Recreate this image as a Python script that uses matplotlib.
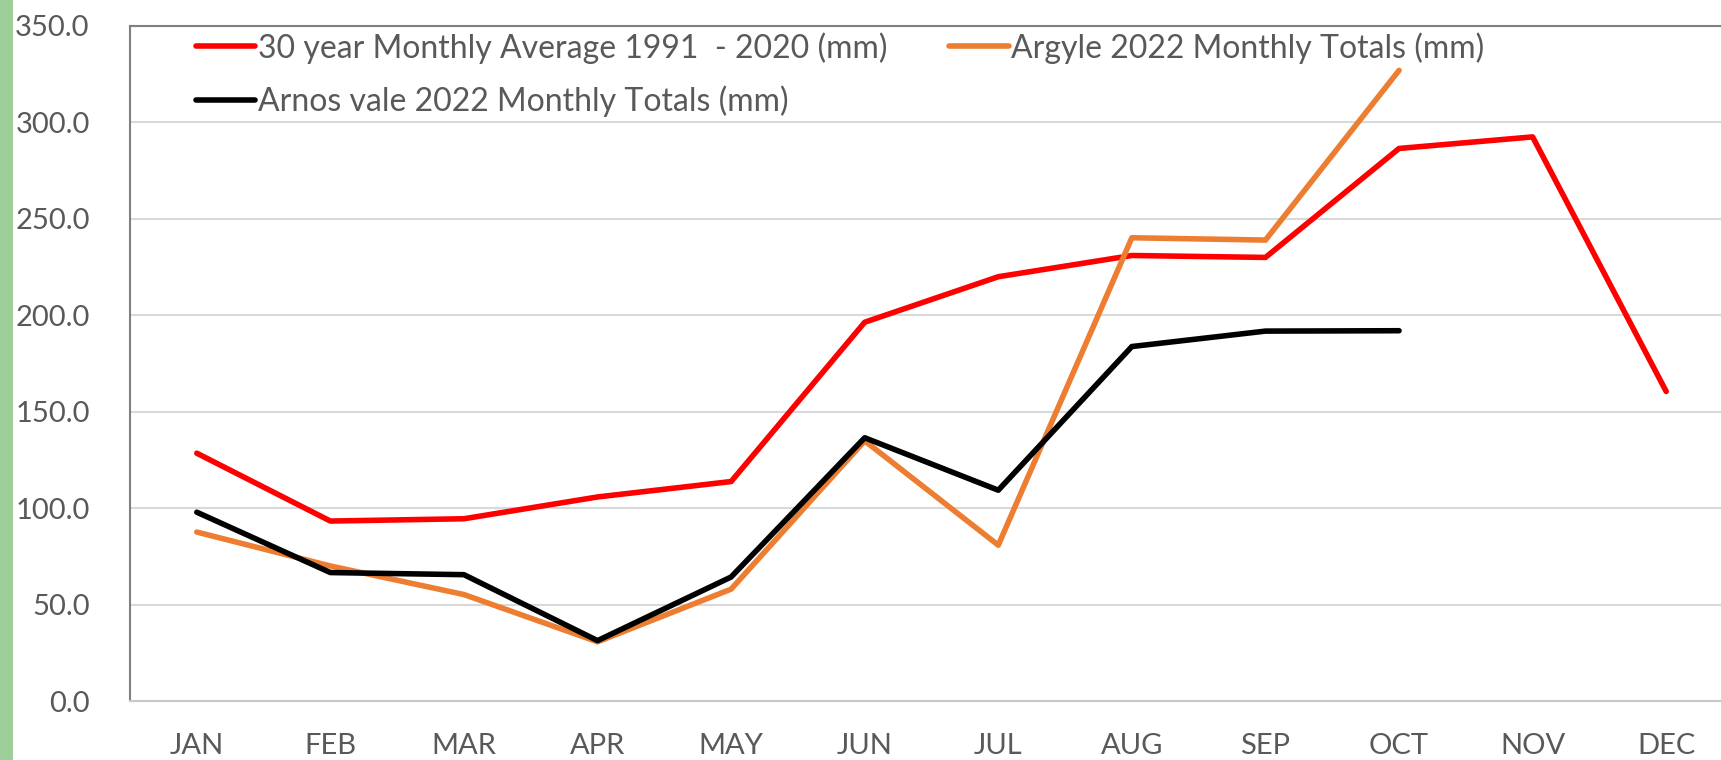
import matplotlib
matplotlib.use("Agg")
import matplotlib.pyplot as plt
from matplotlib.patches import Rectangle

months = ["JAN", "FEB", "MAR", "APR", "MAY", "JUN", "JUL", "AUG", "SEP", "OCT", "NOV", "DEC"]
avg_30yr = [128.5, 93.3, 94.5, 105.8, 113.8, 196.4, 220.0, 231.0, 230.0, 286.5, 292.5, 160.5]
argyle_2022 = [87.6, 70.0, 55.2, 30.7, 58.0, 134.9, 80.8, 240.2, 239.0, 327.0]
arnos_2022 = [97.9, 66.6, 65.5, 31.3, 64.3, 136.5, 109.3, 183.8, 191.8, 192.0]
yticks = [0, 50, 100, 150, 200, 250, 300, 350]

label_avg = "30 year Monthly Average 1991  - 2020 (mm)"
label_argyle = "Argyle 2022 Monthly Totals (mm)"
label_arnos = "Arnos vale 2022 Monthly Totals (mm)"

plt.rcParams['font.family'] = ['Lato', 'DejaVu Sans']
txt = "#595959"

fig = plt.figure(figsize=(17.21, 7.6), dpi=100)
fig.patches.append(Rectangle((0, 0), 13/1721, 1, transform=fig.transFigure,
                             facecolor="#9DCD98", edgecolor="none", zorder=0))
ax = fig.add_axes([130/1721, 59/760, (1733-130)/1721, (701-26)/760])

x = list(range(len(months)))
kw = dict(lw=4.0, solid_capstyle="round", solid_joinstyle="round")
l1, = ax.plot(x, avg_30yr, color="#FF0000", label=label_avg, zorder=3, **kw)
l2, = ax.plot(x[:len(argyle_2022)], argyle_2022, color="#ED7D31", label=label_argyle, zorder=3, **kw)
l3, = ax.plot(x[:len(arnos_2022)], arnos_2022, color="#000000", label=label_arnos, zorder=4, **kw)

ax.set_xlim(-0.5, 11.5)
ax.set_ylim(0, 350)
ax.set_yticks(yticks)
ax.set_yticklabels([f"{v:.1f}" for v in yticks])
ax.set_xticks(x)
ax.set_xticklabels(months)
ax.tick_params(axis="y", length=0, pad=29, labelsize=21, labelcolor=txt)
ax.tick_params(axis="x", length=0, pad=23, labelsize=21, labelcolor=txt)
ax.yaxis.grid(True, color="#D9D9D9", lw=1.5)
ax.set_axisbelow(True)
for s in ["top", "left"]:
    ax.spines[s].set_color("#7F7F7F")
    ax.spines[s].set_linewidth(1.5)
ax.spines["bottom"].set_color("#C8C8C8")
ax.spines["bottom"].set_linewidth(1.5)
ax.spines["right"].set_visible(False)

leg = fig.legend(handles=[l1, l3, l2], loc="upper left", ncol=2,
                 bbox_to_anchor=(196/1721, 1 - 32/760), frameon=False,
                 fontsize=23, handlelength=1.85, handletextpad=0.08,
                 columnspacing=1.95, labelspacing=0.68, borderaxespad=0, borderpad=0)
for t in leg.get_texts():
    t.set_color(txt)

fig.savefig("out.png", dpi=100)
